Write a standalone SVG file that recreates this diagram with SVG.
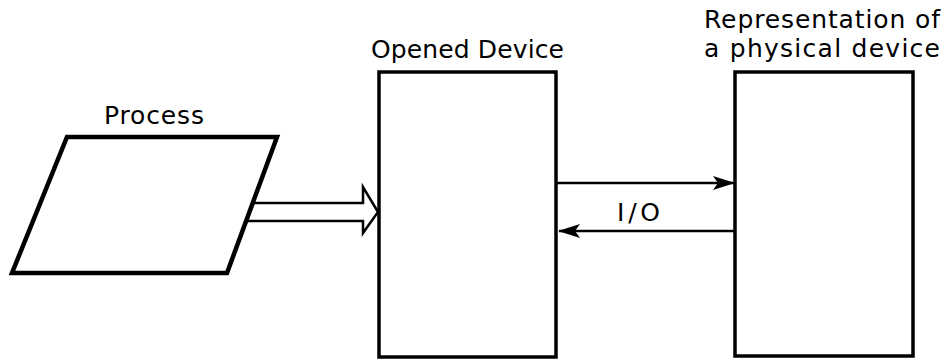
<svg xmlns="http://www.w3.org/2000/svg" width="950" height="360" viewBox="0 0 950 360">
  <defs>
    <style>
      .label { font-family: "DejaVu Sans", "Liberation Sans", sans-serif; font-size: 25px; fill: #000; }
      .shape { fill: #fff; stroke: #000; stroke-linejoin: miter; }
      .wire { fill: none; stroke: #000; stroke-width: 2.5; }
    </style>
    <marker id="barb" viewBox="0 0 22 16" refX="21" refY="8" markerWidth="22" markerHeight="16" markerUnits="userSpaceOnUse" orient="auto">
      <path d="M0,1 L22,8 L0,15 L5,8 Z" fill="#000"/>
    </marker>
  </defs>
  <rect width="950" height="360" fill="#fff"/>

  <g id="process">
    <polygon class="shape" stroke-width="4.5" points="67,137 277,137 227,273 12,273"/>
    <text class="label" x="104" y="124" textLength="100" lengthAdjust="spacing">Process</text>
  </g>

  <g id="opened-device">
    <rect class="shape" stroke-width="3.5" x="379" y="72" width="177" height="285"/>
    <text class="label" x="371" y="58" textLength="193" lengthAdjust="spacing">Opened Device</text>
  </g>

  <g id="physical-device">
    <rect class="shape" stroke-width="3.5" x="735" y="72" width="178" height="284"/>
    <text class="label" x="704" y="28" textLength="236" lengthAdjust="spacing">Representation of</text>
    <text class="label" x="704" y="57" textLength="236" lengthAdjust="spacing">a physical device</text>
  </g>

  <g id="connectors">
    <!-- hollow double-line arrow from the process into the opened device -->
    <path class="wire" d="M252.5,203 H363 V187 L378,212 L363,233 V221 H246"/>
    <!-- I/O request and reply -->
    <line class="wire" x1="557" y1="183" x2="734" y2="183" marker-end="url(#barb)"/>
    <line class="wire" x1="734" y1="231" x2="559" y2="231" marker-end="url(#barb)"/>
    <text class="label" x="617" y="221" textLength="43" lengthAdjust="spacing">I/O</text>
  </g>
</svg>
